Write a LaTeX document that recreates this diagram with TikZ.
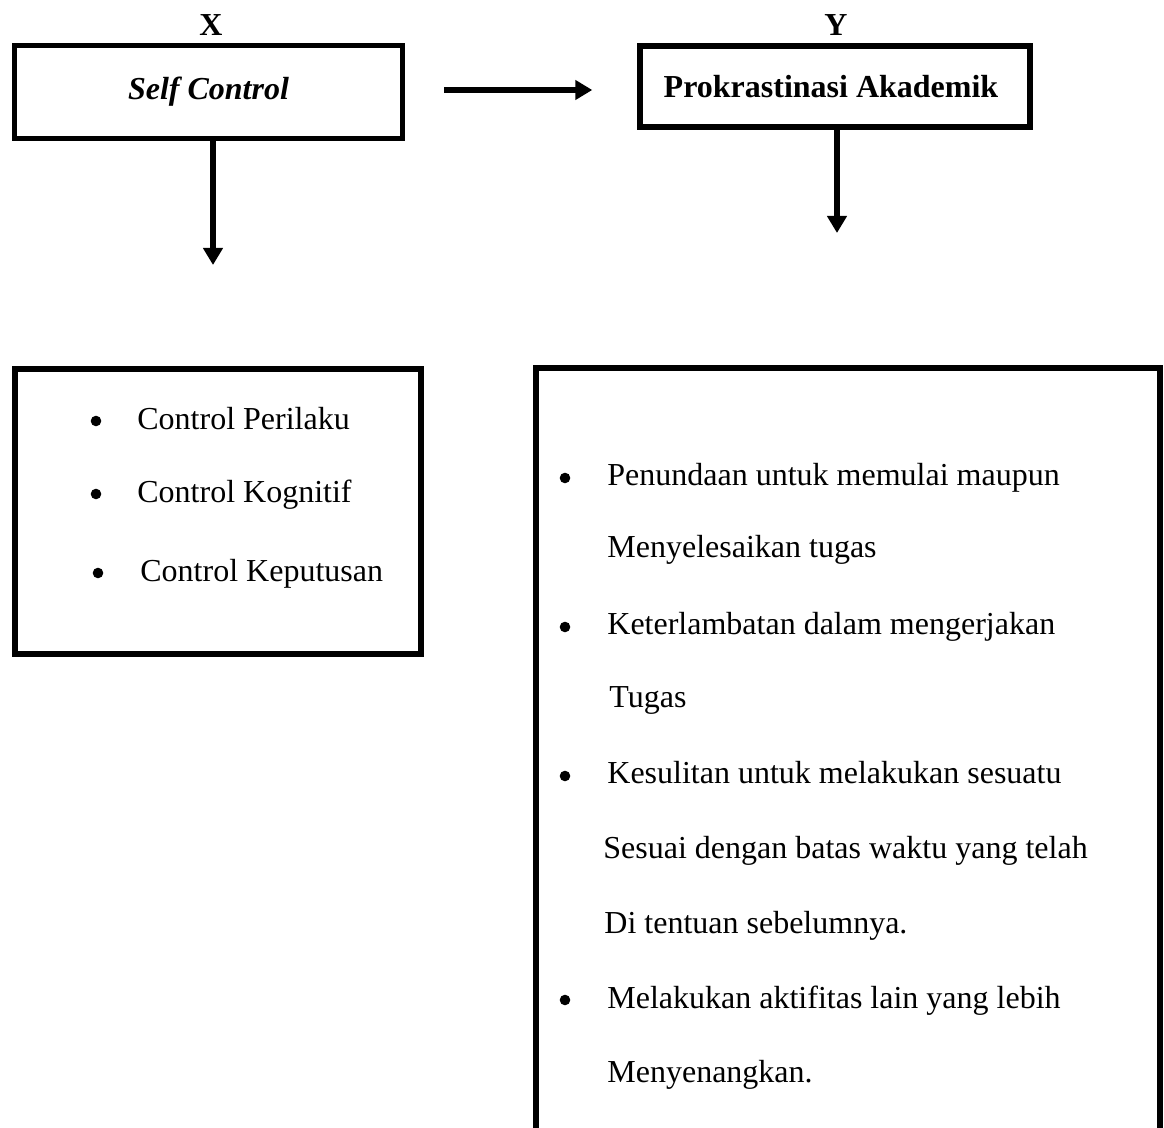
\documentclass[tikz,border=0pt]{standalone}
\usepackage{fontspec}
\setmainfont{Liberation Serif}
\usetikzlibrary{arrows.meta}

\begin{document}
\begin{tikzpicture}[
		x=0.5pt, y=-0.5pt,
		>={Triangle[length=8.5pt,width=9.5pt]},
		font=\fontsize{16}{19}\selectfont,
		kotak/.style={draw,line width=2.7pt,inner sep=0pt},
		panah/.style={->,line width=3.2pt},
		butir/.style={circle,fill,inner sep=0pt,minimum size=5.3pt},
		baris/.style={anchor=base west,inner sep=0pt}
	]
		\useasboundingbox (0,0) rectangle (1164,1128);
		\clip (0,0) rectangle (1164,1128);

		% Variabel
		\node[font=\fontsize{16}{19}\selectfont\bfseries] (labx) at (211,25) {X};
		\node[font=\fontsize{16}{19}\selectfont\bfseries] (laby) at (836,25) {Y};
		\node[kotak,minimum width=193.8pt,minimum height=46.3pt,
			font=\fontsize{16}{19}\selectfont\bfseries\itshape] (selfctrl) at (208.5,92) {Self Control};
		\node[kotak,minimum width=195pt,minimum height=40.5pt,
			font=\fontsize{16}{19}\selectfont\bfseries] (prokras) at (835,86.5) {\hspace*{-4pt}Prokrastinasi Akademik};

		% Indikator
		\node[kotak,minimum width=203pt,minimum height=142.5pt] (indikx) at (218,511.5) {};
		\node[kotak,minimum width=312pt,minimum height=396pt] (indiky) at (848,764) {};

		\foreach \i/\bx/\tx/\by/\teks in {
			1/96/137/430/Control Perilaku,
			2/96/137/503/Control Kognitif,
			3/98/140/582/Control Keputusan}
		{
			\node[butir] (bx\i) at (\bx,\by-9) {};
			\node[baris] (tx\i) at (\tx,\by) {\teks};
		}

		\node[butir] (by1) at (565,478) {};
		\node[butir] (by2) at (565,627) {};
		\node[butir] (by3) at (565,776) {};
		\node[butir] (by4) at (565,1000) {};
		\foreach \i/\tx/\by/\teks in {
			1/607/486/Penundaan untuk memulai maupun,
			2/607/558/Menyelesaikan tugas,
			3/607/635/Keterlambatan dalam mengerjakan,
			4/609/708/Tugas,
			5/607/784/Kesulitan untuk melakukan sesuatu,
			6/603/859/Sesuai dengan batas waktu yang telah,
			7/604/934/Di tentuan sebelumnya.,
			8/607/1008/Melakukan aktifitas lain yang lebih,
			9/607/1083/Menyenangkan.}
		{
			\node[baris] (ty\i) at (\tx,\by) {\teks};
		}

		% Panah
		\coordinate (ujungx) at (213,265);
		\coordinate (ujungy) at (837,233);
		\draw[panah] (selfctrl.south -| ujungx) -- (ujungx);
		\draw[panah] (prokras.south -| ujungy) -- (ujungy);
		\draw[panah,shorten <=19.5pt,shorten >=22.5pt]
			(selfctrl.east |- 0,90) -- (prokras.west |- 0,90);
	\end{tikzpicture}
\end{document}
